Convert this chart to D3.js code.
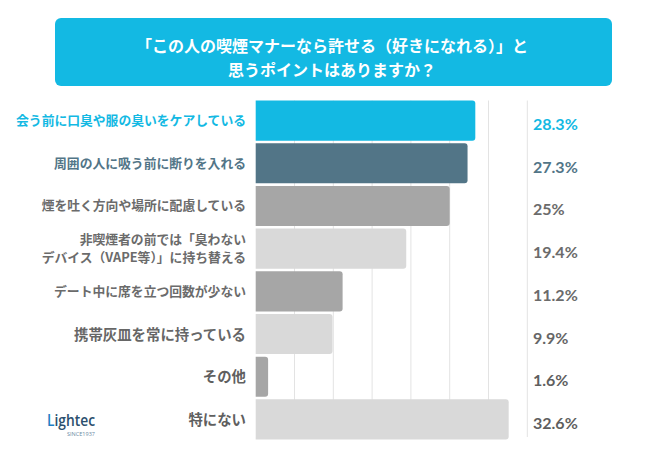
<!DOCTYPE html>
<html><head><meta charset="utf-8">
<script src="https://cdn.jsdelivr.net/npm/d3@7"></script>
<style>
html,body{margin:0;padding:0;background:#fff;}
svg{display:block;}
</style></head>
<body>
<script>
const titleLines = ["「この人の喫煙マナーなら許せる（好きになれる）」と", "思うポイントはありますか？"];
const categories = [
  ["会う前に口臭や服の臭いをケアしている"],
  ["周囲の人に吸う前に断りを入れる"],
  ["煙を吐く方向や場所に配慮している"],
  ["非喫煙者の前では「臭わない", "デバイス（VAPE等）」に持ち替える"],
  ["デート中に席を立つ回数が少ない"],
  ["携帯灰皿を常に持っている"],
  ["その他"],
  ["特にない"]
];
const values = [28.3, 27.3, 25, 19.4, 11.2, 9.9, 1.6, 32.6];
const valueLabels = ["28.3%", "27.3%", "25%", "19.4%", "11.2%", "9.9%", "1.6%", "32.6%"];
const gridTicks = [5, 10, 15, 20, 25, 30, 35];
const barColors = ["#13b9e3", "#527587", "#a6a6a6", "#d9d9d9", "#a6a6a6", "#d9d9d9", "#a6a6a6", "#d9d9d9"];
const textColors = ["#13b9e3", "#527587", "#6b6b6b", "#6b6b6b", "#6b6b6b", "#666666", "#5f5f5f", "#5f5f5f"];
const labelSizes = [12.8, 12.8, 12.8, 12.8, 12.8, 14.4, 14.4, 14.4];

const W = 659, H = 450;
const svg = d3.select("body").append("svg").attr("width", W).attr("height", H);
const jp = "'Noto Sans CJK JP','Noto Sans',sans-serif";

// Title box
svg.append("rect").attr("x", 55).attr("y", 18).attr("width", 557).attr("height", 68)
  .attr("rx", 6).attr("fill", "#13b9e3");
svg.selectAll("text.title").data(titleLines).join("text")
  .attr("class", "title")
  .attr("x", 332).attr("y", (d, i) => 45 + i * 24)
  .attr("text-anchor", "middle").attr("dominant-baseline", "central")
  .attr("fill", "#fff").attr("font-family", jp).attr("font-weight", 700)
  .attr("font-size", 16).text(d => d);

// Scales
const x = d3.scaleLinear().domain([0, 35]).range([255.7, 527.3]);
const y = d3.scaleBand().domain(d3.range(values.length)).range([100.5, 439.5]).paddingInner(0.06).paddingOuter(0);

// Gridlines
svg.append("g").selectAll("line").data(gridTicks).join("line")
  .attr("x1", d => x(d)).attr("x2", d => x(d))
  .attr("y1", 100.5).attr("y2", 437)
  .attr("stroke", "#e3e3e3").attr("stroke-width", 1);

// Bars (rounded right corners)
const r = 3;
function barPath(i) {
  const x0 = x(0), x1 = x(values[i]), y0 = y(i), h = y.bandwidth();
  const rr = Math.min(r, (x1 - x0) / 2);
  return `M${x0},${y0}H${x1 - rr}Q${x1},${y0} ${x1},${y0 + rr}V${y0 + h - rr}Q${x1},${y0 + h} ${x1 - rr},${y0 + h}H${x0}Z`;
}
svg.append("g").selectAll("path").data(values).join("path")
  .attr("d", (d, i) => barPath(i))
  .attr("fill", (d, i) => barColors[i]);

// Category labels
const lab = svg.append("g").selectAll("text").data(categories).join("text")
  .attr("text-anchor", "end")
  .attr("font-family", jp).attr("font-weight", 700)
  .attr("font-size", (d, i) => labelSizes[i])
  .attr("fill", (d, i) => textColors[i]);
lab.each(function(d, i) {
  const cy = y(i) + y.bandwidth() / 2;
  const n = d.length;
  d3.select(this).selectAll("tspan").data(d).join("tspan")
    .attr("x", 246)
    .attr("y", (t, j) => cy + (j - (n - 1) / 2) * 18.5 - 1)
    .attr("dominant-baseline", "central")
    .text(t => t);
});

// Value labels
svg.append("g").selectAll("text").data(valueLabels).join("text")
  .attr("x", 533)
  .attr("y", (d, i) => y(i) + y.bandwidth() / 2 + 3)
  .attr("dominant-baseline", "central")
  .attr("font-family", "Lato, 'Noto Sans', sans-serif").attr("font-weight", 700)
  .attr("font-size", 16)
  .attr("fill", (d, i) => textColors[i])
  .text(d => d);

// Logo
const logo = svg.append("g");
const lt = logo.append("text").attr("x", 47).attr("y", 426)
  .attr("font-family", "'Open Sans', sans-serif").attr("font-size", 15.5).attr("font-weight", 600)
  .attr("textLength", 48).attr("lengthAdjust", "spacingAndGlyphs");
lt.append("tspan").attr("fill", "#1f7fc4").text("L");
lt.append("tspan").attr("fill", "#2b4f6e").text("ightec");
logo.append("text").attr("x", 67).attr("y", 436)
  .attr("font-family", "'Open Sans', sans-serif").attr("font-size", 4.5)
  .attr("fill", "#6b8aa3").attr("textLength", 28).attr("lengthAdjust", "spacingAndGlyphs")
  .text("SINCE1937");
</script>
</body></html>
